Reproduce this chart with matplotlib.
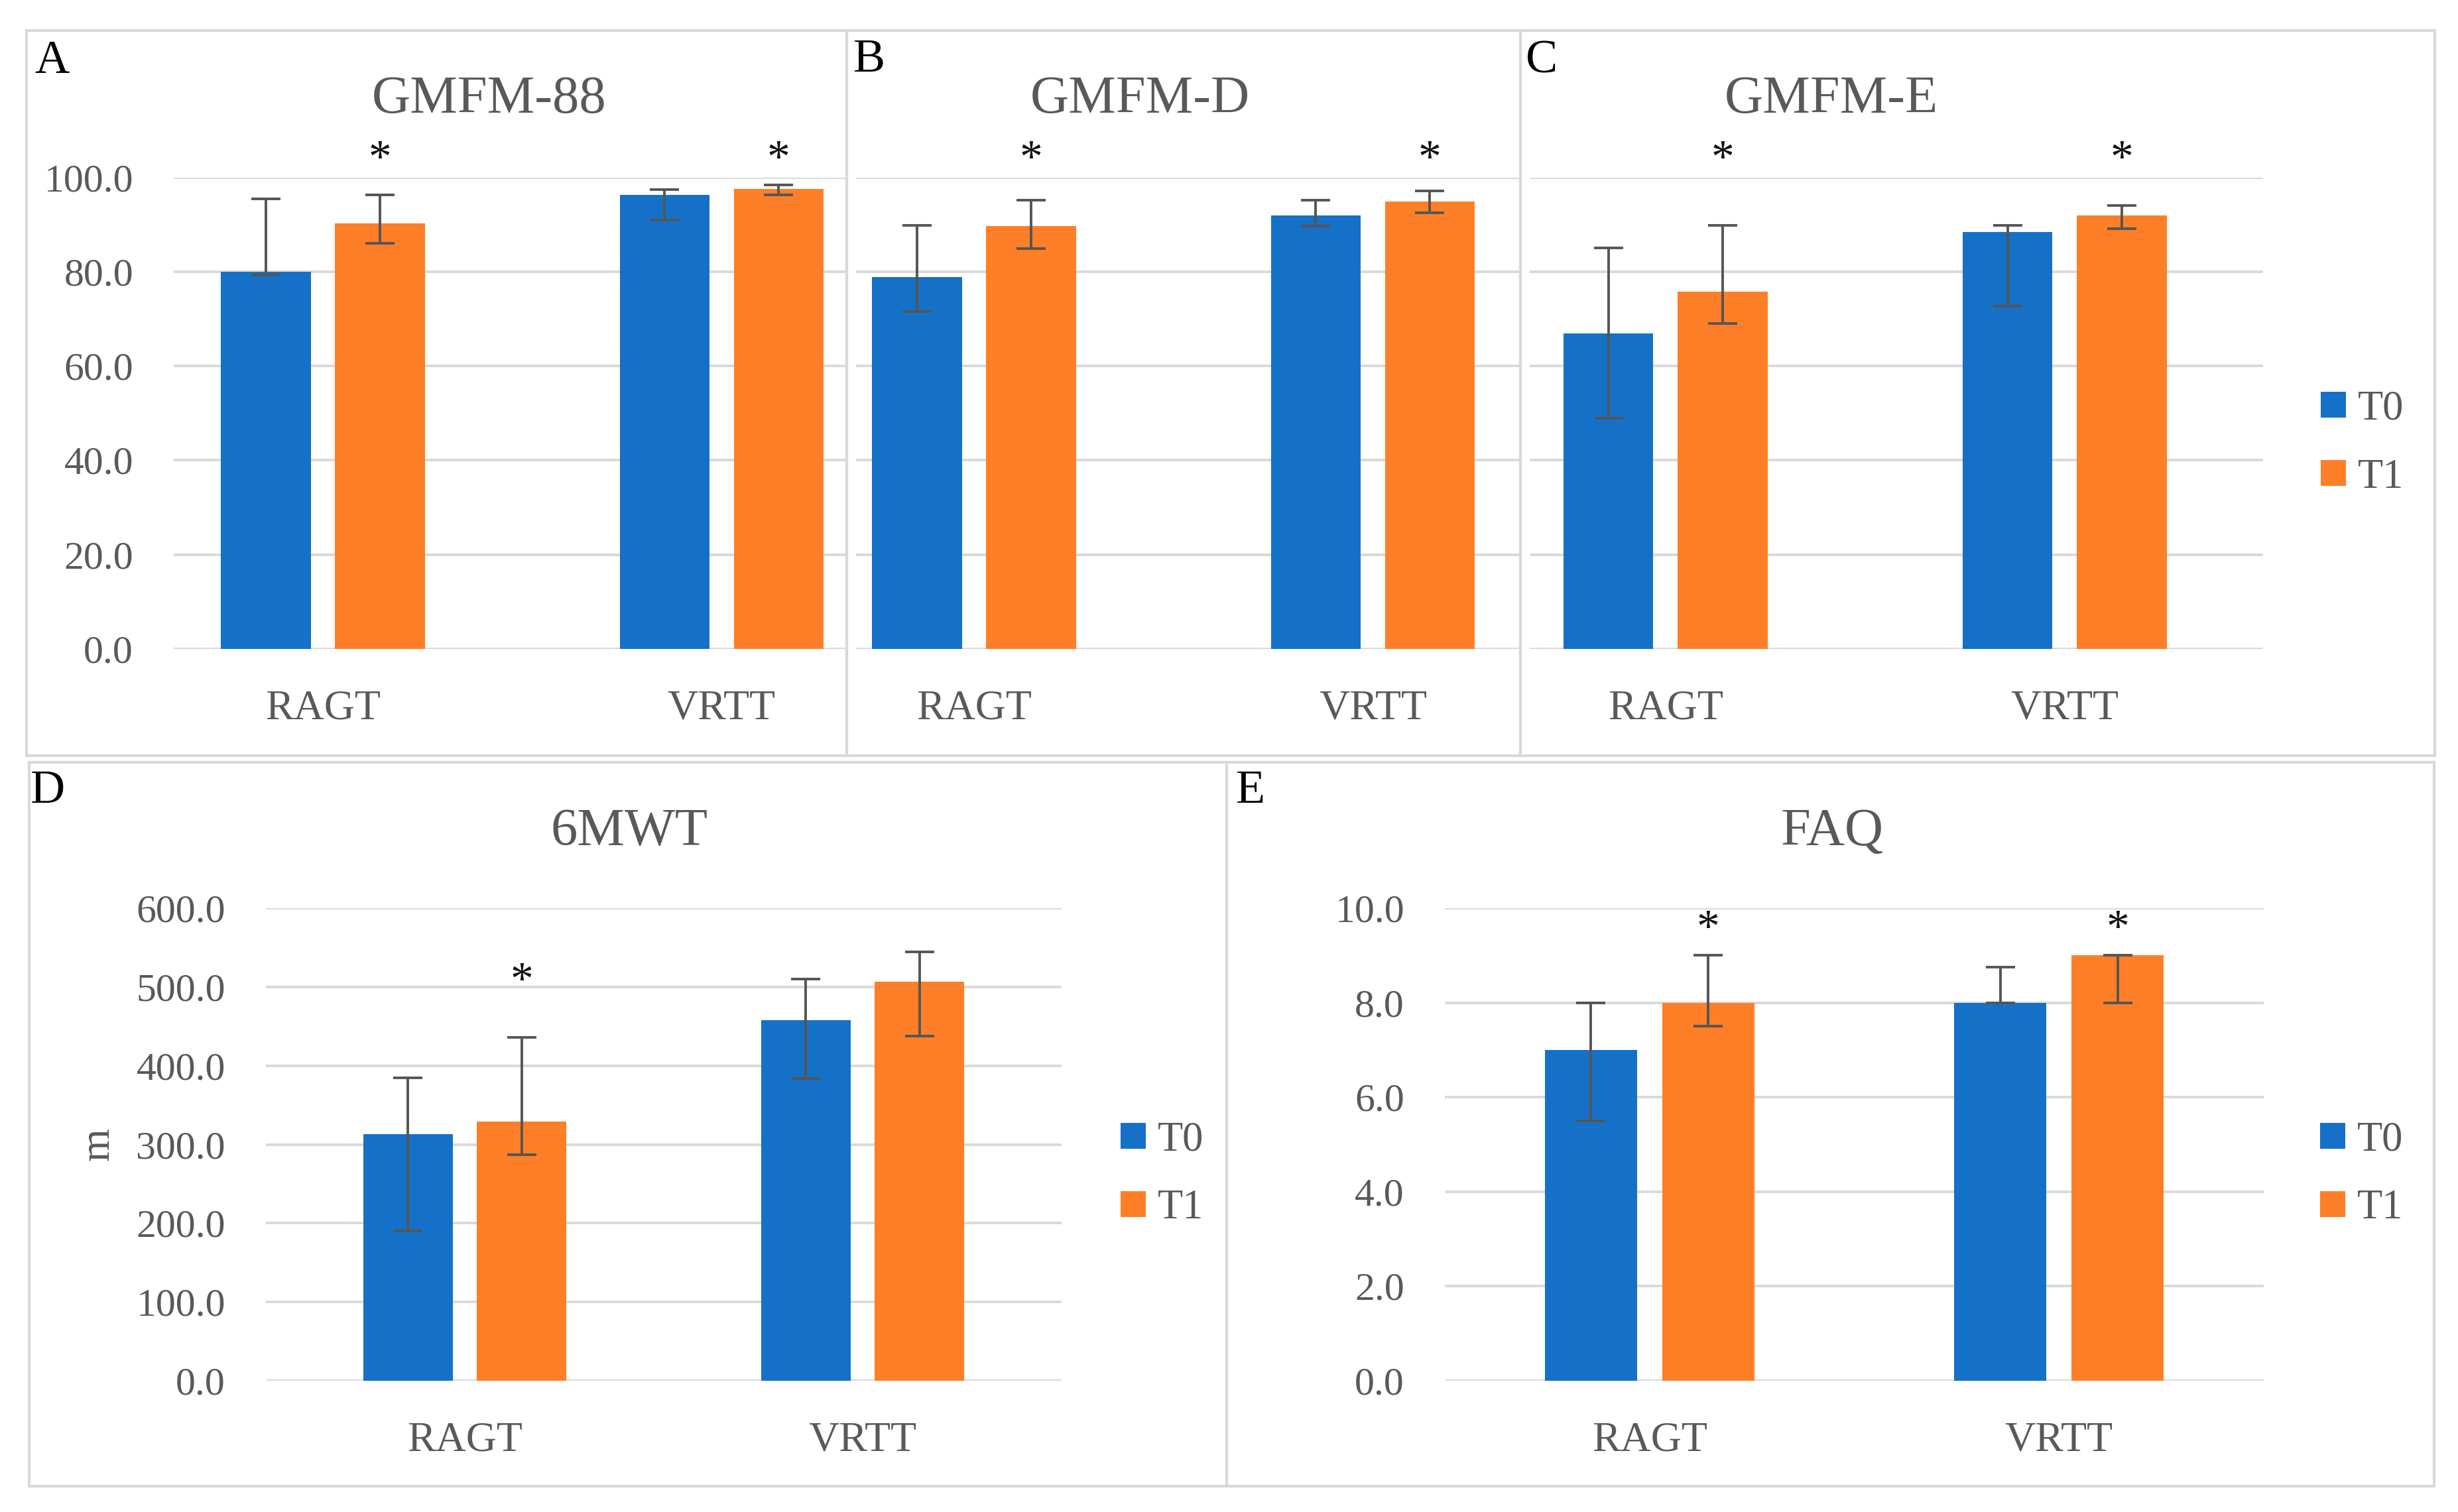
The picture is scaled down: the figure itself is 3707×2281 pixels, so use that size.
import matplotlib
matplotlib.use("Agg")
import matplotlib.pyplot as plt
from matplotlib.patches import Rectangle
import numpy as np

# ---------------- data ----------------
categories = ["RAGT", "VRTT"]
series_names = ["T0", "T1"]

gmfm88_t0 = [80.0, 96.3]
gmfm88_t1 = [90.2, 97.6]
gmfm88_t0_lo = [79.3, 91.0]
gmfm88_t0_hi = [95.4, 97.4]
gmfm88_t1_lo = [86.1, 96.3]
gmfm88_t1_hi = [96.3, 98.4]

gmfmd_t0 = [78.8, 91.9]
gmfmd_t1 = [89.7, 94.9]
gmfmd_t0_lo = [71.6, 89.7]
gmfmd_t0_hi = [89.9, 95.2]
gmfmd_t1_lo = [84.9, 92.5]
gmfmd_t1_hi = [95.2, 97.1]

gmfme_t0 = [66.9, 88.4]
gmfme_t1 = [75.8, 91.9]
gmfme_t0_lo = [48.9, 72.7]
gmfme_t0_hi = [85.1, 89.9]
gmfme_t1_lo = [69.0, 89.2]
gmfme_t1_hi = [89.9, 94.0]

mwt_t0 = [313.3, 458.0]
mwt_t1 = [329.4, 506.8]
mwt_t0_lo = [190.4, 383.8]
mwt_t0_hi = [384.4, 509.9]
mwt_t1_lo = [286.8, 437.6]
mwt_t1_hi = [435.7, 544.5]

faq_t0 = [7.0, 8.0]
faq_t1 = [8.0, 9.0]
faq_t0_lo = [5.5, 8.0]
faq_t0_hi = [8.0, 8.75]
faq_t1_lo = [7.5, 8.0]
faq_t1_hi = [9.0, 9.0]

# significance markers over T1 bars
gmfm88_sig = [True, True]
gmfmd_sig = [True, True]
gmfme_sig = [True, True]
mwt_sig = [True, False]
faq_sig = [True, True]

yticks_gmfm = [0, 20, 40, 60, 80, 100]
yticks_mwt = [0, 100, 200, 300, 400, 500, 600]
yticks_faq = [0, 2, 4, 6, 8, 10]

# ---------------- style ----------------
W, H = 3707, 2281
DPI = 100
BLUE = "#1571C8"
ORANGE = "#FE7F27"
GRID = "#D9D9D9"
TXT = "#595959"
ERR = "#555555"
FONT = ["Liberation Serif", "DejaVu Serif"]
plt.rcParams["font.family"] = FONT

fig = plt.figure(figsize=(W / DPI, H / DPI), dpi=DPI)
fig.patch.set_facecolor("white")


def fx(px):
    return px / W


def fy(py):
    return 1 - py / H


# panel frames
frames = [(40, 46, 1277, 1140), (1277, 46, 2293, 1140), (2293, 46, 3672, 1140),
          (44, 1150, 1850, 2242), (1850, 1150, 3671, 2242)]
for x0, y0, x1, y1 in frames:
    fig.patches.append(Rectangle((fx(x0), fy(y1)), fx(x1) - fx(x0), fy(y0) - fy(y1),
                                 transform=fig.transFigure, fill=False,
                                 edgecolor=GRID, lw=3.0, zorder=0))

WIDTH = 0.225
OFF = 0.143


def panel(px_x0, px_x1, px_top, px_bot, xlim, ylim, yticks, t0, t1, t0lo, t0hi,
          t1lo, t1hi, sig, sig_frac, show_ylabels, ylabel=None):
    ax = fig.add_axes([fx(px_x0), fy(px_bot), fx(px_x1) - fx(px_x0),
                       (px_bot - px_top) / H])
    ax.set_facecolor("none")
    x = np.arange(len(categories))
    t0 = np.array(t0); t1 = np.array(t1)
    ax.bar(x - OFF, t0, WIDTH, color=BLUE, zorder=3, label=series_names[0])
    ax.bar(x + OFF, t1, WIDTH, color=ORANGE, zorder=3, label=series_names[1])
    ek = dict(fmt="none", ecolor=ERR, elinewidth=2.8, capsize=16, capthick=2.8,
              zorder=4, clip_on=False)
    ax.errorbar(x - OFF, t0, yerr=[t0 - np.array(t0lo), np.array(t0hi) - t0], **ek)
    ax.errorbar(x + OFF, t1, yerr=[t1 - np.array(t1lo), np.array(t1hi) - t1], **ek)
    for xi, s in zip(x, sig):
        if s:
            ax.text(xi + OFF, sig_frac, "*", transform=ax.get_xaxis_transform(),
                    ha="center", va="center", fontsize=50, color="#111111",
                    clip_on=False)
    ax.set_xlim(*xlim)
    ax.set_ylim(*ylim)
    ax.set_yticks(yticks)
    ax.yaxis.grid(True, color=GRID, lw=2.8, zorder=0)
    ax.set_axisbelow(True)
    for s in ax.spines.values():
        s.set_visible(False)
    ax.tick_params(axis="both", length=0)
    ax.set_xticks(x)
    ax.set_xticklabels(categories, fontsize=46, color=TXT)
    ax.tick_params(axis="x", pad=76)
    for lbl in ax.get_xticklabels():
        lbl.set_va("baseline")
    if show_ylabels:
        ax.set_yticklabels([f"{v:.1f}" for v in yticks], fontsize=43, color=TXT)
        ax.tick_params(axis="y", pad=44)
    else:
        ax.set_yticklabels([])
    if ylabel:
        ax.set_ylabel(ylabel, fontsize=46, color=TXT, labelpad=20)
    return ax


def title(xc, yb, s):
    fig.text(fx(xc), fy(yb), s, ha="center", va="baseline", fontsize=58, color=TXT)


def letter(xl, yb, s):
    fig.text(fx(xl), fy(yb), s, ha="left", va="baseline", fontsize=52, color="black")


def legend(ax, x_left, y_center):
    ax.legend(loc="center left", bbox_to_anchor=(fx(x_left), fy(y_center)),
              bbox_transform=fig.transFigure, frameon=False, fontsize=45,
              handlelength=0.6, handleheight=0.6, handletextpad=0.3,
              labelspacing=0.72, borderpad=0, borderaxespad=0, labelcolor=TXT)


# top row
axA = panel(262, 1277, 267.7, 979, (-0.374, 1.314), (0, 100), yticks_gmfm,
            gmfm88_t0, gmfm88_t1, gmfm88_t0_lo, gmfm88_t0_hi, gmfm88_t1_lo, gmfm88_t1_hi,
            gmfm88_sig, 1.036, True)
axB = panel(1291, 2293, 267.7, 979, (-0.296, 1.370), (0, 100), yticks_gmfm,
            gmfmd_t0, gmfmd_t1, gmfmd_t0_lo, gmfmd_t0_hi, gmfmd_t1_lo, gmfmd_t1_hi,
            gmfmd_sig, 1.036, False)
axC = panel(2307, 3413, 267.7, 979, (-0.340, 1.497), (0, 100), yticks_gmfm,
            gmfme_t0, gmfme_t1, gmfme_t0_lo, gmfme_t0_hi, gmfme_t1_lo, gmfme_t1_hi,
            gmfme_sig, 1.036, False)
legend(axC, 3500, 669)

# bottom row
axD = panel(401, 1601, 1370, 2083, (-0.5, 1.5), (0, 600), yticks_mwt,
            mwt_t0, mwt_t1, mwt_t0_lo, mwt_t0_hi, mwt_t1_lo, mwt_t1_hi,
            mwt_sig, 0.843, True, ylabel="m")
axE = panel(2179, 3414, 1370, 2083, (-0.5, 1.5), (0, 10), yticks_faq,
            faq_t0, faq_t1, faq_t0_lo, faq_t0_hi, faq_t1_lo, faq_t1_hi,
            faq_sig, 0.953, True)
legend(axD, 1690, 1772)
legend(axE, 3499, 1772)

title(738, 170, "GMFM-88")
title(1719, 170, "GMFM-D")
title(2762, 170, "GMFM-E")
title(949, 1275, "6MWT")
title(2763, 1275, "FAQ")

letter(52, 110, "A")
letter(1287, 108, "B")
letter(2301, 110, "C")
letter(46, 1211, "D")
letter(1864, 1211, "E")

fig.savefig("out.png", dpi=DPI, facecolor="white")
